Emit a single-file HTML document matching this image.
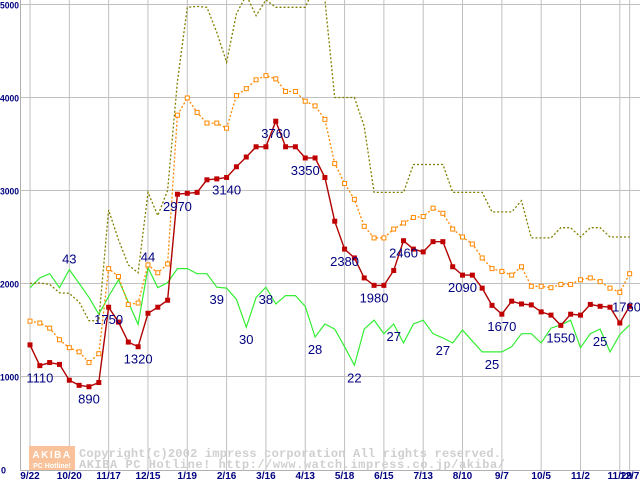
<!DOCTYPE html>
<html><head><meta charset="utf-8"><style>
body{margin:0;background:#fff;}
svg{display:block;font-family:"Liberation Sans",sans-serif;}
</style></head><body>
<svg id="chart" width="640" height="480" viewBox="0 0 640 480" xmlns="http://www.w3.org/2000/svg">
<defs><clipPath id="plot"><rect x="20" y="0" width="620" height="470"/></clipPath></defs>
<g id="grid"></g>
<g id="axes"></g>
<g id="watermark">
<rect x="29" y="446" width="46" height="24" fill="#f9c29a"/>
<text x="52" y="458" text-anchor="middle" font-size="10" font-weight="bold" fill="#fff" letter-spacing="1.5">AKIBA</text>
<text x="52" y="468" text-anchor="middle" font-size="7" font-weight="bold" fill="#fff">PC Hotline!</text>
<text x="79" y="457" font-family="Liberation Mono,monospace" font-size="12" font-weight="bold" fill="#cfcfcf" textLength="422">Copyright(c)2002 impress corporation All rights reserved.</text>
<text x="79" y="468" font-family="Liberation Mono,monospace" font-size="12" font-weight="bold" fill="#cfcfcf" textLength="426">AKIBA PC Hotline!  http://www.watch.impress.co.jp/akiba/</text>
</g>
<g id="series" clip-path="url(#plot)"></g>
<g id="labels"></g>
</svg>
<script>
const xTickLabels=["9/22","10/20","11/17","12/15","1/19","2/16","3/16","4/13","5/18","6/15","7/13","8/10","9/7","10/5","11/2","11/29","12/7"];
const xTickIndex=[0,4,8,12,16,20,24,28,32,36,40,44,48,52,56,60,61];
const yTicks=[0,1000,2000,3000,4000,5000];
const priceMain=[1340,1117,1150,1130,960,905,890,935,1745,1585,1370,1320,1680,1745,1820,2960,2970,2980,3115,3125,3140,3255,3360,3470,3470,3745,3470,3470,3350,3350,3140,2670,2370,2275,2060,1980,1980,2140,2460,2370,2340,2450,2450,2180,2090,2090,1950,1765,1670,1810,1780,1770,1695,1660,1550,1670,1660,1775,1755,1745,1575,1755];
const priceAvg=[1595,1575,1520,1395,1310,1265,1150,1245,2160,2075,1775,1790,2200,2115,2210,3810,3995,3840,3725,3725,3670,4020,4095,4190,4235,4200,4065,4065,3960,3910,3765,3290,3075,2905,2615,2490,2490,2585,2650,2710,2720,2810,2755,2585,2500,2425,2275,2160,2130,2090,2180,1970,1970,1955,1990,1990,2040,2060,2020,1950,1905,2105];
const priceMax=[2000,2005,1990,1900,1895,1800,1600,1600,2790,2470,2200,2115,2980,2730,3000,4170,4970,4980,4970,4700,4380,4900,5100,4880,5050,4970,4970,4970,4970,5200,5050,4000,4000,4000,3690,2980,2980,2980,2980,3280,3280,3280,3280,2980,2980,2980,2980,2770,2770,2770,2890,2490,2490,2490,2600,2600,2500,2600,2600,2500,2500,2500];
const shopCount=[1955,2060,2105,1955,2150,2000,1850,1670,1860,2040,1800,1560,2170,1955,2010,2160,2160,2105,2105,1960,1950,1830,1530,1850,1960,1780,1870,1870,1755,1425,1565,1510,1320,1120,1510,1605,1460,1565,1360,1565,1605,1460,1415,1360,1500,1380,1265,1265,1265,1320,1460,1460,1360,1520,1555,1605,1310,1460,1510,1265,1450,1555];
const priceLabels=[[1,"1110"],[6,"890"],[8,"1750"],[11,"1320"],[15,"2970"],[20,"3140"],[25,"3760"],[28,"3350"],[32,"2380"],[35,"1980"],[38,"2460"],[44,"2090"],[48,"1670"],[54,"1550"],[61,"1760"]];
const countLabels=[[4,"43"],[12,"44"],[19,"39"],[22,"30"],[24,"38"],[29,"28"],[33,"22"],[37,"27"],[42,"27"],[47,"25"],[58,"25"]];
const NS="http://www.w3.org/2000/svg";
const X=i=>30+i*9.83;
const Y=v=>469.5-v*0.093;
function mk(tag,attrs,parent){const e=document.createElementNS(NS,tag);for(const k in attrs)e.setAttribute(k,attrs[k]);parent.appendChild(e);return e;}
const grid=document.getElementById('grid'),axes=document.getElementById('axes'),ser=document.getElementById('series'),lab=document.getElementById('labels');
yTicks.forEach(v=>{if(v>0){const l=mk('line',{x1:20,x2:640,y1:Y(v),y2:Y(v),stroke:'#c0c0c0','stroke-width':1},grid);

}
const s=String(v);
const t=mk('text',{x:v===0?1:0,y:Y(v)+4,'font-size':9,'font-weight':'bold',fill:'#000080'},axes);t.textContent=s;
if(s.length>1){t.setAttribute('textLength',19);t.setAttribute('lengthAdjust','spacingAndGlyphs');}

});
xTickIndex.forEach((idx,k)=>{const l=mk('line',{x1:X(idx),x2:X(idx),y1:0,y2:470,stroke:'#c0c0c0','stroke-width':1},grid);


const t=mk('text',{x:X(idx),y:479,'text-anchor':'middle','font-size':10,'font-weight':'bold',fill:'#000080'},axes);t.textContent=xTickLabels[k];

});
const ya=mk('line',{x1:20.5,x2:20.5,y1:0,y2:471,stroke:'#b0b0b0'},axes);


const xa=mk('line',{x1:20,x2:640,y1:470.5,y2:470.5,stroke:'#b0b0b0'},axes);


function pts(a){return a.map((v,i)=>X(i).toFixed(1)+','+Y(v).toFixed(1)).join(' ');}
const g1=mk('polyline',{points:pts(shopCount),fill:'none',stroke:'#33ee33','stroke-width':1.2},ser);


const o1=mk('polyline',{points:pts(priceMax),fill:'none',stroke:'#808000','stroke-width':1.3,'stroke-dasharray':'2,2'},ser);


const a1=mk('polyline',{points:pts(priceAvg),fill:'none',stroke:'#ff8800','stroke-width':1.3,'stroke-dasharray':'2,2'},ser);


priceAvg.forEach((v,i)=>{const r=mk('rect',{x:X(i)-2,y:Y(v)-2,width:4,height:4,fill:'#fff',stroke:'#ff8800','stroke-width':1},ser);

});
const r1=mk('polyline',{points:pts(priceMain),fill:'none',stroke:'#b00000','stroke-width':1.4},ser);


priceMain.forEach((v,i)=>{const r=mk('rect',{x:X(i)-2.5,y:Y(v)-2.5,width:5,height:5,fill:'#c00000'},ser);

});
priceLabels.forEach(([i,s])=>{const t=mk('text',{x:X(i)+ (i===61?-1:0),y:Y(priceMain[i])+17,'text-anchor':i===61?'end':'middle','font-size':13,fill:'#000080'},lab);t.textContent=s;
if(i===61){t.setAttribute('x',641);t.setAttribute('y',Y(priceMain[i])+5);}

});
countLabels.forEach(([i,s])=>{const t=mk('text',{x:X(i),y:Y(shopCount[i])+(i===4||i===12?-6:17),'text-anchor':'middle','font-size':13,fill:'#000080'},lab);t.textContent=s;

});
</script>
</body></html>
